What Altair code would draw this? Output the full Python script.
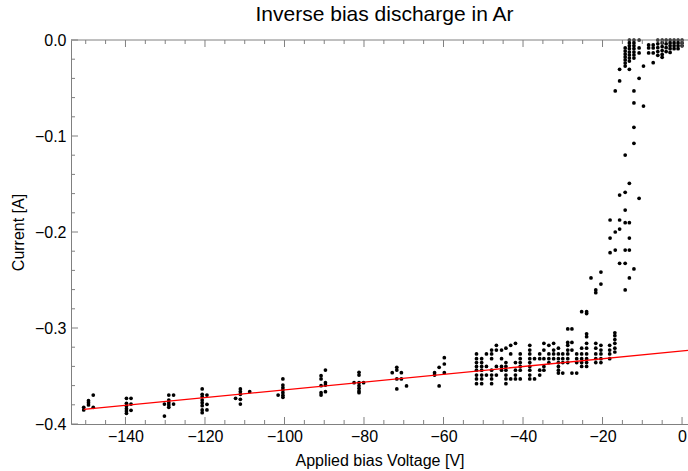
import altair as alt
import pandas as pd

# ---------------- data ----------------
col_volts = [
    -150.5, -149.3, -148.1, -139.75, -138.6, -130.2, -129.1, -127.9,
    -120.7, -119.5, -112.3, -111.1, -108.75, -101.6, -100.4,
    -90.8, -89.7, -82.5, -81.25, -80.1, -72.9, -71.75, -70.6, -69.3,
    -62.25, -61.1, -59.8,
]
col_amps = [
    [-0.3826, -0.3854],
    [-0.3757, -0.3778, -0.3802],
    [-0.3698, -0.3826],
    [-0.3732, -0.3784, -0.3813, -0.3841, -0.3865, -0.3889],
    [-0.3732, -0.3792, -0.3857],
    [-0.3917, -0.3792],
    [-0.3698, -0.375, -0.3778, -0.3802, -0.3826],
    [-0.3698, -0.3792],
    [-0.3635, -0.3691, -0.3716, -0.375, -0.3778, -0.3809, -0.3854, -0.3882],
    [-0.3698, -0.3795, -0.3854],
    [-0.3732],
    [-0.3635, -0.3664, -0.3691, -0.3743, -0.3792],
    [-0.3664],
    [-0.3698],
    [-0.3531, -0.3594, -0.3622, -0.3646, -0.3674, -0.3701, -0.3722],
    [-0.3497, -0.3531, -0.3601, -0.3674, -0.3698],
    [-0.3438, -0.357, -0.3594, -0.3664],
    [-0.357],
    [-0.3461, -0.349, -0.357, -0.3601, -0.3628, -0.3656, -0.3674],
    [-0.357],
    [-0.3466],
    [-0.3409, -0.3438, -0.3531, -0.3635],
    [-0.3466, -0.3531],
    [-0.3604],
    [-0.3466, -0.349],
    [-0.3409, -0.3604],
    [-0.3309, -0.3375, -0.3466],
]

dense_volts = [
    -51.7, -50.4, -49.2, -47.9, -46.7, -45.4, -44.3, -43.1, -41.9, -40.7,
    -38.3, -37.1, -35.8, -34.75, -33.5, -32.3, -31.1, -30.0, -28.75, -27.7,
    -26.5, -25.25, -24.0, -22.9, -21.7, -20.4, -18.2, -16.9,
]
dense_amps = [
    [-0.327, -0.332, -0.336, -0.340, -0.344, -0.349, -0.353, -0.358],
    [-0.332, -0.336, -0.340, -0.344, -0.349, -0.353, -0.358],
    [-0.327, -0.340, -0.349],
    [-0.323, -0.327, -0.332, -0.344, -0.349, -0.353, -0.358],
    [-0.318, -0.323, -0.340, -0.349],
    [-0.323, -0.332, -0.340, -0.344],
    [-0.321, -0.336, -0.340, -0.344, -0.349, -0.353, -0.358],
    [-0.318, -0.327, -0.353],
    [-0.316, -0.336, -0.344, -0.349, -0.353],
    [-0.327, -0.332, -0.336, -0.340, -0.344, -0.353],
    [-0.318, -0.323, -0.327, -0.332, -0.336, -0.340, -0.344, -0.349, -0.353],
    [-0.332, -0.353],
    [-0.327, -0.332, -0.344, -0.349],
    [-0.316, -0.323, -0.332, -0.340, -0.344],
    [-0.318, -0.327, -0.332, -0.336],
    [-0.316, -0.323, -0.327, -0.332],
    [-0.321, -0.327, -0.332, -0.336, -0.340, -0.344, -0.347],
    [-0.327, -0.332, -0.336, -0.347],
    [-0.301, -0.315, -0.318, -0.323, -0.327, -0.332, -0.336],
    [-0.301, -0.315, -0.323, -0.347],
    [-0.327, -0.332, -0.336, -0.347],
    [-0.283, -0.321, -0.327, -0.332, -0.336, -0.340],
    [-0.283, -0.285, -0.306, -0.309, -0.316, -0.321, -0.327, -0.332, -0.336, -0.340],
    [-0.2479],
    [-0.2604, -0.2632, -0.316, -0.321, -0.327, -0.332, -0.336],
    [-0.2417, -0.2542, -0.318, -0.323, -0.327, -0.332, -0.336],
    [-0.318, -0.323, -0.327, -0.332],
    [-0.305, -0.308, -0.312, -0.316, -0.321, -0.325],
]

rise_volts = [
    -18.1, -16.8, -15.7, -14.3, -13.25, -12.1, -10.8, -9.7, -8.4, -7.25,
    -6.1, -5.0, -4.0, -3.0, -2.0, -1.0, 0.0,
]
rise_amps = [
    [-0.1875, -0.2063, -0.2216],
    [-0.2, -0.2188, -0.0531],
    [-0.1615, -0.1875, -0.1969, -0.2326, -0.0427, -0.0305],
    [-0.1198, -0.1586, -0.1771, -0.1903, -0.2188, -0.2326, -0.2604, -0.0271,
     -0.0083, -0.0115, -0.0146, -0.0177, -0.0208, -0.024],
    [-0.1493, -0.1903, -0.2063, -0.2188, -0.2479, -0.0305, 0.0, -0.003,
     -0.006, -0.009, -0.0125, -0.0156, -0.0188, -0.022],
    [-0.2385, -0.1076, -0.0909, -0.0656, -0.0531, 0.0, -0.003, -0.006,
     -0.009, -0.0125, -0.0156, -0.0188],
    [-0.1649, -0.0399, 0.0, -0.0083, -0.0135],
    [-0.0688, -0.0271],
    [-0.0052, -0.0083, -0.0135],
    [-0.0236, -0.0052, -0.0083, -0.0135],
    [0.0, -0.004, -0.008, -0.012, -0.016],
    [0.0, -0.003, -0.007, -0.011, -0.015, -0.018],
    [0.0, -0.004, -0.008, -0.012],
    [0.0, -0.003, -0.006, -0.009, -0.013],
    [0.0, -0.003, -0.006, -0.009],
    [0.0, -0.003, -0.006, -0.009],
    [0.0, -0.003, -0.006],
]

fit_volts = [-150.5, 1.5]
fit_amps = [-0.3848, -0.3234]

x_major = [-140, -120, -100, -80, -60, -40, -20, 0]
x_minor = [v for v in range(-150, 1, 5) if v % 20 != 0]
y_major = [-0.4, -0.3, -0.2, -0.1, 0.0]
y_minor = [round(-0.38 + 0.02 * i, 2) for i in range(19) if (i + 1) % 5 != 0]

# ---------------- tables ----------------
rows = []
for vs, amps_list in ((col_volts, col_amps), (dense_volts, dense_amps), (rise_volts, rise_amps)):
    for v, amps in zip(vs, amps_list):
        for a in amps:
            rows.append({"V": v, "I": a})
pts = pd.DataFrame(rows)
fit = pd.DataFrame({"V": fit_volts, "I": fit_amps})

W, H = 617, 384
FONT = "Liberation Sans"
FRAME = "#808080"

xs = alt.Scale(domain=[-153.7, 1.5], nice=False, zero=False)
ys = alt.Scale(domain=[-0.4, 0.0], nice=False, zero=False)

x_axis = alt.Axis(values=x_major, ticks=False, grid=False, domainColor=FRAME,
                  labelFont=FONT, labelFontSize=16, labelColor="black",
                  labelPadding=4, labelOverlap=False, labelFlush=False,
                  titleFont=FONT, titleFontSize=16, titleFontWeight="normal",
                  titleColor="black", titlePadding=8)
y_axis = alt.Axis(values=y_major, format=".1f", ticks=False, grid=False,
                  domainColor=FRAME, labelFont=FONT, labelFontSize=16,
                  labelColor="black", labelPadding=5,
                  titleFont=FONT, titleFontSize=16,
                  titleFontWeight="normal", titleColor="black",
                  titleX=-48, titleY=192, titleBaseline="alphabetic",
                  titleAlign="center", titleAngle=270)

X = lambda: alt.X("V:Q", scale=xs, title="Applied bias Voltage [V]", axis=x_axis)
Y = lambda: alt.Y("I:Q", scale=ys, title="Current [A]", axis=y_axis)

points = alt.Chart(pts).mark_circle(size=14, color="black", opacity=1).encode(x=X(), y=Y())

line = alt.Chart(fit).mark_line(color="#ff0000", strokeWidth=1.3).encode(x=X(), y=Y())

def xticks(vals, length):
    df = pd.DataFrame({"V": vals})
    bottom = alt.Chart(df).mark_rule(color=FRAME, strokeWidth=1).encode(
        x=X(), y=alt.value(H), y2=alt.value(H - length))
    top = alt.Chart(df).mark_rule(color=FRAME, strokeWidth=1).encode(
        x=X(), y=alt.value(0), y2=alt.value(length))
    return [bottom, top]

def yticks(vals, length):
    df = pd.DataFrame({"I": vals})
    left = alt.Chart(df).mark_rule(color=FRAME, strokeWidth=1).encode(
        y=Y(), x=alt.value(0), x2=alt.value(length))
    return [left]

top_frame = alt.Chart(pd.DataFrame({"V": [0]})).mark_rule(color=FRAME, strokeWidth=1).encode(
    x=alt.value(0), x2=alt.value(W), y=alt.value(0))

layers = [points, line, top_frame] + xticks(x_major, 7) + xticks(x_minor, 4) + yticks(y_major, 7) + yticks(y_minor, 4)

chart = alt.layer(*layers).properties(
    width=W, height=H,
    title=alt.TitleParams("Inverse bias discharge in Ar", font=FONT, fontSize=21,
                          fontWeight="normal", color="black", anchor="middle",
                          offset=7, dx=5),
    autosize=alt.AutoSizeParams(type="none"),
    padding={"left": 71, "top": 40, "right": 0, "bottom": 47},
).configure_view(stroke=None)

chart.save("out.html", embed_options={"renderer": "svg", "actions": False})
